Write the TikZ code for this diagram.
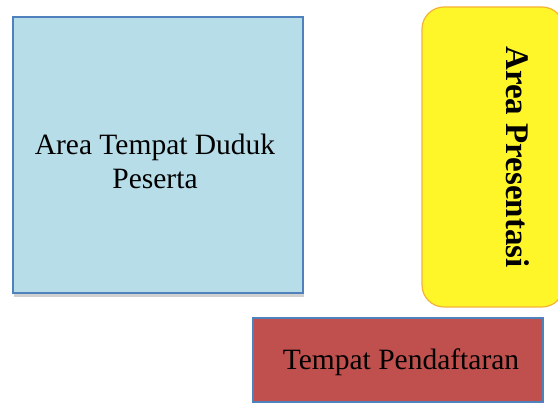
\documentclass[tikz,border=0pt]{standalone}
\usepackage{fontspec}
\setmainfont{Liberation Serif}
\usetikzlibrary{shadows}
\definecolor{bluefill}{HTML}{B7DDE8}
\definecolor{blueline}{HTML}{4F81BD}
\definecolor{yellowfill}{HTML}{FFF62A}
\definecolor{yellowline}{HTML}{F5B335}
\definecolor{redfill}{HTML}{C0504D}
\begin{document}
\begin{tikzpicture}[x=1pt,y=1pt,
  area/.style={draw=blueline, line width=1.2pt, drop shadow={shadow xshift=1pt, shadow yshift=-4pt, opacity=0.3, fill=black!60}},
  lbl/.style={font=\fontsize{29.5}{34}\selectfont, align=center, text=black}]
\useasboundingbox (0,0) rectangle (558,403);
\fill[white] (0,0) rectangle (558,403);
% blue seating area
\node[area, fill=bluefill, minimum width=290pt, minimum height=276pt, inner sep=0pt] (seat) at (158,248) {};
\node[lbl] (seattext) at (155,242) {Area Tempat Duduk\\Peserta};
% yellow presentation area
\node[draw=yellowline, line width=1.2pt, fill=yellowfill, rounded corners=22pt, minimum width=142pt, minimum height=300pt, inner sep=0pt] (pres) at (493,246) {};
\node[font=\fontsize{33}{38}\selectfont\bfseries, rotate=-90] (prestext) at (518,246) {Area Presentasi};
% red registration
\node[area, fill=redfill, minimum width=290pt, minimum height=84pt, inner sep=0pt] (reg) at (398,43) {};
\node[lbl] (regtext) at (401,41) {Tempat Pendaftaran};
\end{tikzpicture}
\end{document}
